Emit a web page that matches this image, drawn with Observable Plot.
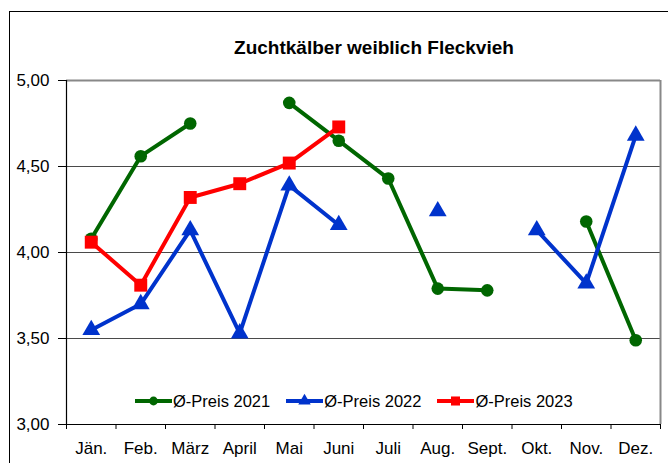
<!DOCTYPE html>
<html>
<head>
<meta charset="utf-8">
<script src="https://cdn.jsdelivr.net/npm/d3@7"></script>
<script src="https://cdn.jsdelivr.net/npm/@observablehq/plot@0.6"></script>
<style>
  html, body { margin: 0; padding: 0; background: #fff; overflow: hidden; }
  #wrap { position: relative; width: 668px; height: 463px; font-family: "Liberation Sans", Arial, sans-serif; }
  #border { position: absolute; left: 9px; top: 11px; width: 720px; height: 520px; border: 1px solid #000; box-sizing: border-box; }
  #title { position: absolute; left: 0; width: 748px; top: 37px; text-align: center; font-weight: bold; font-size: 19px; color: #000; }
  #legend { position: absolute; left: 135px; top: 391px; display: flex; align-items: center; font-size: 16.5px; color: #000; white-space: nowrap; }
  .item { display: flex; align-items: center; margin-right: 16px; }
  .item svg { display: block; margin-right: 1px; }
  #chart { position: absolute; left: 0; top: 0; }
</style>
</head>
<body>
<div id="wrap">
  <div id="border"></div>
  <div id="chart"></div>
  <div id="title">Zuchtkälber weiblich Fleckvieh</div>
  <div id="legend"></div>
</div>
<script>
// ---- data ----
const months = ["Jän.", "Feb.", "März", "April", "Mai", "Juni", "Juli", "Aug.", "Sept.", "Okt.", "Nov.", "Dez."];
const p2021 = [4.08, 4.56, 4.75, null, 4.87, 4.65, 4.43, 3.79, 3.78, null, 4.18, 3.49];
const p2022 = [3.55, 3.70, 4.13, 3.53, 4.39, 4.16, null, 4.24, null, 4.13, 3.82, 4.68];
const p2023 = [4.06, 3.81, 4.32, 4.40, 4.52, 4.73, null, null, null, null, null, null];
const seriesNames = ["Ø-Preis 2021", "Ø-Preis 2022", "Ø-Preis 2023"];
const yTicks = [3, 3.5, 4, 4.5, 5];

const colors = ["#006600", "#0033cc", "#ff0000"];
const symbols = ["circle", "triangle", "square"];
const radii = [6.3, 6.6, 7.3];

const toRows = arr => arr.map((v, i) => ({m: i, v: v}));
const allSeries = [p2021, p2022, p2023].map(toRows);
const boundaries = d3.range(-0.5, 12, 1);

const marks = [
  Plot.ruleY([3.5, 4, 4.5], {stroke: "#4a4a4a", strokeWidth: 1.1}),
  Plot.ruleY([5], {stroke: "#888", strokeWidth: 2}),
  Plot.ruleX([11.5], {stroke: "#888", strokeWidth: 2}),
  Plot.ruleX([-0.5], {stroke: "#000", strokeWidth: 1.2}),
  Plot.ruleY([3], {stroke: "#000", strokeWidth: 1.2}),
  Plot.text(months, {x: (d, i) => i, y: () => 3, text: d => d, dy: 24, fontSize: 17, fill: "#000"})
];
allSeries.forEach((rows, k) => {
  marks.push(Plot.line(rows, {x: "m", y: "v", stroke: colors[k], strokeWidth: 4}));
  marks.push(Plot.dot(rows.filter(d => d.v != null), {x: "m", y: "v", symbol: symbols[k], r: radii[k], fill: colors[k], stroke: "none"}));
});

const chart = Plot.plot({
  width: 668,
  height: 463,
  marginLeft: 66,
  marginRight: 8,
  marginTop: 80,
  marginBottom: 39,
  style: {fontFamily: "'Liberation Sans', Arial, sans-serif", fontSize: "17px", color: "#000", background: "transparent", overflow: "visible"},
  x: {type: "linear", domain: [-0.5, 11.5], ticks: boundaries, tickFormat: () => "", tickSize: 5, label: null},
  y: {domain: [3, 5], ticks: yTicks, tickFormat: d => d.toFixed(2).replace(".", ","), tickSize: 8, tickPadding: 9, label: null},
  marks
});
document.getElementById("chart").appendChild(chart);

// ---- legend ----
const legend = document.getElementById("legend");
seriesNames.forEach((name, k) => {
  const item = document.createElement("div");
  item.className = "item";
  const ns = "http://www.w3.org/2000/svg";
  const sw = document.createElementNS(ns, "svg");
  sw.setAttribute("width", 37);
  sw.setAttribute("height", 20);
  const ln = document.createElementNS(ns, "line");
  ln.setAttribute("x1", 0); ln.setAttribute("x2", 37);
  ln.setAttribute("y1", 10); ln.setAttribute("y2", 10);
  ln.setAttribute("stroke", colors[k]); ln.setAttribute("stroke-width", 4);
  sw.appendChild(ln);
  const sym = {circle: d3.symbolCircle, triangle: d3.symbolTriangle, square: d3.symbolSquare}[symbols[k]];
  const p = document.createElementNS(ns, "path");
  const rr = radii[k] * 0.7;
  p.setAttribute("d", d3.symbol(sym, rr * rr * Math.PI)());
  p.setAttribute("transform", "translate(18.5,10)");
  p.setAttribute("fill", colors[k]);
  sw.appendChild(p);
  item.appendChild(sw);
  const t = document.createElement("span");
  t.textContent = name;
  item.appendChild(t);
  legend.appendChild(item);
});
</script>
</body>
</html>
